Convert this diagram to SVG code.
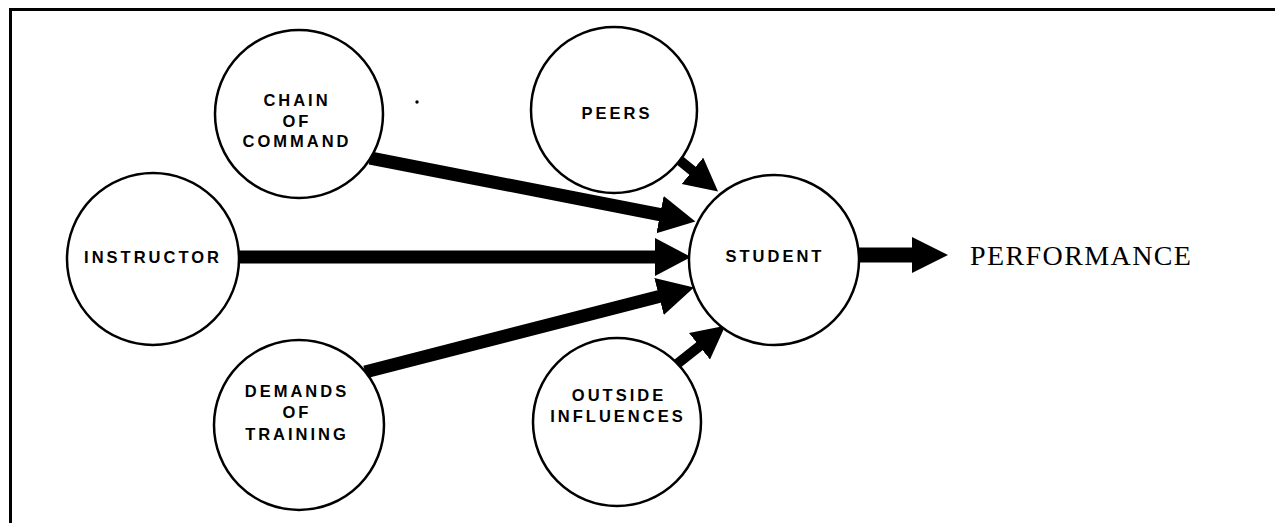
<svg xmlns="http://www.w3.org/2000/svg" width="1275" height="523" viewBox="0 0 1275 523">
<style>
.node circle{fill:#fff;stroke:#000;stroke-width:2.5}
.lbl{font-family:"Liberation Sans",Arial,sans-serif;font-weight:bold;font-size:16.5px;letter-spacing:3px;text-anchor:middle;fill:#000}
.big{stroke:#000;stroke-width:13;fill:none}
.small{stroke:#000;stroke-width:10;fill:none}
</style>
<defs>
<marker id="hd" markerUnits="userSpaceOnUse" markerWidth="40" markerHeight="40" refX="2" refY="19" orient="auto" viewBox="0 0 40 40"><path d="M0,0 L36,19 L0,38 Z" fill="#000"/></marker>
<marker id="hs" markerUnits="userSpaceOnUse" markerWidth="36" markerHeight="36" refX="2" refY="17" orient="auto" viewBox="0 0 36 36"><path d="M0,0 L33,17 L0,34 Z" fill="#000"/></marker>
<marker id="hp" markerUnits="userSpaceOnUse" markerWidth="40" markerHeight="40" refX="2" refY="18" orient="auto" viewBox="0 0 40 40"><path d="M0,0 L36,18 L0,36 Z" fill="#000"/></marker>
</defs>
<rect width="1275" height="523" fill="#fff"/>
<path d="M10.5,523 V9.5 H1275" fill="none" stroke="#000" stroke-width="3"/>
<circle cx="417" cy="102" r="1.7" fill="#000"/>
<g id="connectors">
<line class="big" x1="370" y1="158" x2="662" y2="215" marker-end="url(#hd)"/>
<line class="big" x1="239" y1="257" x2="657" y2="257" marker-end="url(#hd)"/>
<line class="big" x1="365" y1="372" x2="661" y2="296" marker-end="url(#hd)"/>
<line class="small" x1="678" y1="159" x2="694" y2="172" marker-end="url(#hs)"/>
<line class="small" x1="677" y1="364" x2="701" y2="345" marker-end="url(#hs)"/>
<line stroke="#000" stroke-width="15" x1="858" y1="255" x2="914" y2="255" marker-end="url(#hp)"/>
</g>
<g id="chain" class="node"><circle cx="299" cy="114" r="84"/>
<text class="lbl" x="297" y="106">CHAIN</text><text class="lbl" x="297" y="127">OF</text><text class="lbl" x="297" y="147">COMMAND</text></g>
<g id="instructor" class="node"><circle cx="153" cy="259" r="86"/>
<text class="lbl" x="153" y="263">INSTRUCTOR</text></g>
<g id="demands" class="node"><circle cx="299" cy="425" r="85"/>
<text class="lbl" x="297" y="397">DEMANDS</text><text class="lbl" x="297" y="418">OF</text><text class="lbl" x="297" y="440">TRAINING</text></g>
<g id="peers" class="node"><circle cx="614" cy="110" r="83"/>
<text class="lbl" x="617" y="119">PEERS</text></g>
<g id="outside" class="node"><circle cx="617" cy="422" r="84"/>
<text class="lbl" x="619" y="401">OUTSIDE</text><text class="lbl" x="618" y="422">INFLUENCES</text></g>
<g id="student" class="node"><circle cx="774" cy="260" r="85"/>
<text class="lbl" x="775" y="262">STUDENT</text></g>
<g id="performance"><text x="970" y="265" font-family="Liberation Serif,'Times New Roman',serif" font-size="28" letter-spacing="1.4" fill="#000">PERFORMANCE</text></g>
</svg>
